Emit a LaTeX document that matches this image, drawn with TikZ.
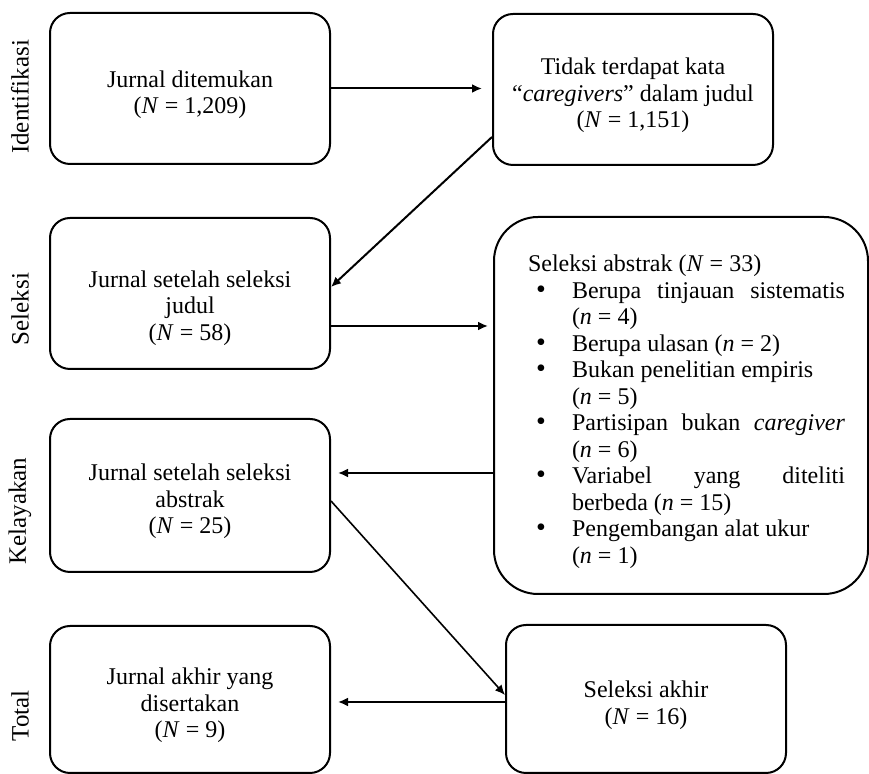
\documentclass[tikz,border=0pt]{standalone}
\usepackage{fontspec}
\setmainfont{Liberation Serif}
\usetikzlibrary{arrows.meta}
\newcommand{\atas}[1][14.5pt]{\rule{0pt}{#1}}
\newcommand{\butir}[1]{\par\hangindent=22pt\hangafter=1\noindent\hspace*{4pt}\makebox[18pt][l]{\fontsize{14}{13.25}\selectfont\textbullet}#1}
\begin{document}
\begin{tikzpicture}[x=0.5pt,y=-0.5pt,
		kotak/.style={draw=black, line width=1pt, rounded corners=10pt, minimum width=140pt, minimum height=75.5pt, align=center, font=\fontsize{12}{13.25}\selectfont},
		tahap/.style={rotate=90, font=\fontsize{12.5}{14}\selectfont},
		panah/.style={-{Latex[length=5pt, width=4.5pt]}, line width=1pt}]
			\useasboundingbox (0,0) rectangle (869,774);
			\node[tahap] (tIdentifikasi) at (20,97) {Identifikasi};
			\node[tahap] (tSeleksi) at (20,309) {Seleksi};
			\node[tahap] (tKelayakan) at (20,511) {Kelayakan};
			\node[tahap] (tTotal) at (20,716) {Total};
			\node[kotak] (ditemukan) at (190,88.5) {\atas Jurnal ditemukan\\(\textit{N} = 1,209)};
			\node[kotak] (tidakada) at (633,89.5) {\atas Tidak terdapat kata\\``\textit{caregivers}'' dalam judul\\(\textit{N} = 1,151)};
			\node[kotak] (judul) at (190,293.5) {\atas[23pt]Jurnal setelah seleksi\\judul\\(\textit{N} = 58)};
			\node[kotak, rounded corners=22pt, minimum width=187pt, minimum height=188.5pt, align=justify, text width=164pt] (abstrak) at (681,405.5) {\leftskip=5.5pt\noindent\atas Seleksi abstrak (\textit{N} = 33)
				\butir{Berupa tinjauan sistematis\linebreak (\textit{n} = 4)}
				\butir{Berupa ulasan (\textit{n} = 2)}
				\butir{Bukan penelitian empiris\newline (\textit{n} = 5)}
				\butir{Partisipan bukan \textit{caregiver}\linebreak (\textit{n} = 6)}
				\butir{Variabel yang diteliti\linebreak berbeda (\textit{n} = 15)}
				\butir{Pengembangan alat ukur\newline (\textit{n} = 1)}\par};
			\node[kotak, minimum height=76.5pt] (layak) at (190,495.5) {\atas Jurnal setelah seleksi\\abstrak\\(\textit{N} = 25)};
			\node[kotak, minimum height=74pt] (akhir) at (646,699) {\atas Seleksi akhir\\(\textit{N} = 16)};
			\node[kotak, minimum height=73.5pt] (total) at (190,699.5) {\atas Jurnal akhir yang\\disertakan\\(\textit{N} = 9)};
			\draw[panah, shorten >=5pt] (ditemukan.east) -- (ditemukan.east -| tidakada.west);
			\draw[panah] ([yshift=-23.75pt]tidakada.west) -- ([yshift=3.25pt]judul.east);
			\draw[panah, shorten >=2.5pt] ([yshift=-16.25pt]judul.east) -- ([yshift=-16.25pt]judul.east -| abstrak.west);
			\draw[panah, shorten >=3.5pt] ([yshift=-33.75pt]abstrak.west) -- ([yshift=-33.75pt]abstrak.west -| layak.east);
			\draw[panah, line width=0.8pt] ([yshift=-2.75pt]layak.east) -- ([yshift=2pt]akhir.west);
			\draw[panah, shorten >=3.5pt] ([yshift=-1.5pt]akhir.west) -- ([yshift=-1.5pt]akhir.west -| total.east);
\end{tikzpicture}
\end{document}
